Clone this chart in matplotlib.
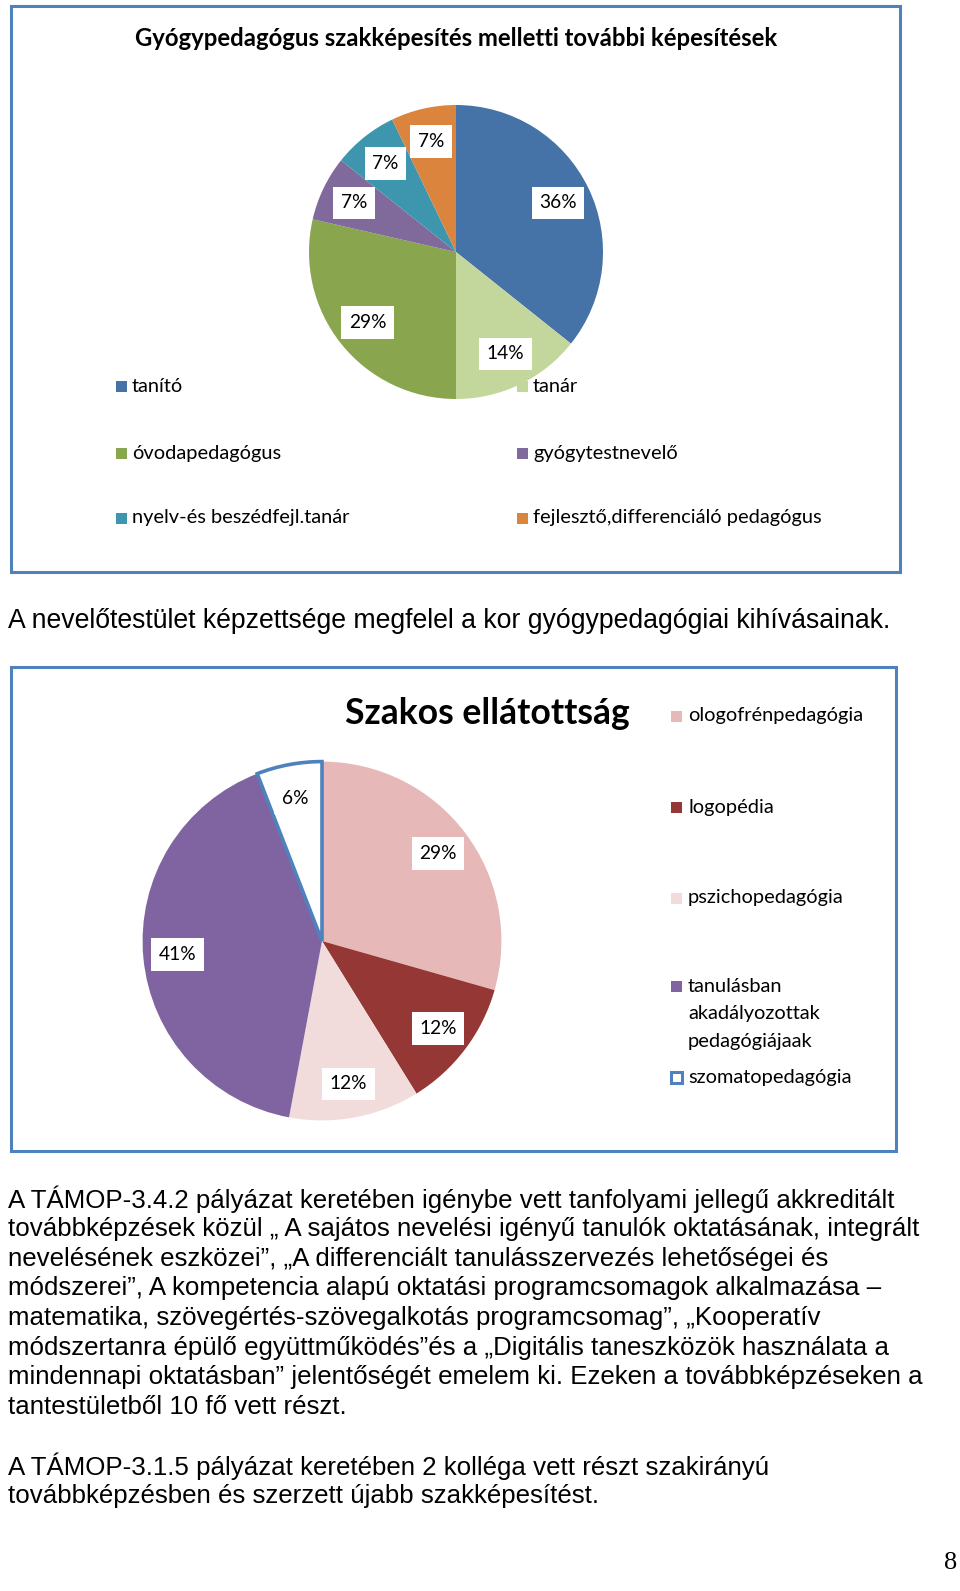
import matplotlib
matplotlib.use('Agg')
import matplotlib.pyplot as plt
from matplotlib.patches import Rectangle

# 1. diagram adatai
labels1 = ['tanító', 'tanár', 'óvodapedagógus', 'gyógytestnevelő',
           'nyelv-és beszédfejl.tanár', 'fejlesztő,differenciáló pedagógus']
counts1 = [5, 2, 4, 1, 1, 1]
colors1 = ['#4572A7', '#C3D69B', '#89A54E', '#80699B', '#3D96AE', '#DB843D']

# 2. diagram adatai
labels2 = ['ologofrénpedagógia', 'logopédia', 'pszichopedagógia',
           'tanulásban\nakadályozottak\npedagógiájaak', 'szomatopedagógia']
counts2 = [5, 2, 2, 7, 1]
colors2 = ['#E6B9B8', '#953735', '#F2DCDB', '#8064A2', '#FFFFFF']

title1 = 'Gyógypedagógus szakképesítés melletti további képesítések'
title2 = 'Szakos ellátottság'
sentence = 'A nevelőtestület képzettsége megfelel a kor gyógypedagógiai kihívásainak.'
para_lines = [
    'A TÁMOP-3.4.2 pályázat keretében igénybe vett tanfolyami jellegű akkreditált',
    'továbbképzések közül „ A sajátos nevelési igényű tanulók oktatásának, integrált',
    'nevelésének eszközei”, „A differenciált tanulásszervezés lehetőségei és',
    'módszerei”, A kompetencia alapú oktatási programcsomagok alkalmazása –',
    'matematika, szövegértés-szövegalkotás programcsomag”, „Kooperatív',
    'módszertanra épülő együttműködés”és a „Digitális taneszközök használata a',
    'mindennapi oktatásban” jelentőségét emelem ki. Ezeken a továbbképzéseken a',
    'tantestületből 10 fő vett részt.',
    '',
    'A TÁMOP-3.1.5 pályázat keretében 2 kolléga vett részt szakirányú',
    'továbbképzésben és szerzett újabb szakképesítést.',
]

W, H = 960, 1591
CHART_FONT = 'Lato'
DOC_FONT = 'Liberation Sans'
BORDER = '#4F81BD'

fig = plt.figure(figsize=(W / 100, H / 100), dpi=100)
fig.patch.set_facecolor('white')

# háttér tengely pixel-koordinátákkal
bg = fig.add_axes([0, 0, 1, 1])
bg.set_xlim(0, W)
bg.set_ylim(H, 0)
bg.axis('off')


def pie_axes(cx, cy, r):
    ax = fig.add_axes([(cx - r) / W, 1 - (cy + r) / H, 2 * r / W, 2 * r / H])
    return ax


def legend_square(x, y, color, edge=None):
    s = 11
    if edge:
        bg.add_patch(Rectangle((x - s / 2, y - s / 2), s, s, facecolor='white',
                               edgecolor=edge, linewidth=2.2))
    else:
        bg.add_patch(Rectangle((x - s / 2, y - s / 2), s, s, facecolor=color,
                               edgecolor='none'))


# --- 1. diagram keret + cím
bg.add_patch(Rectangle((10.5, 5.5), 889, 566.5, fill=False, edgecolor=BORDER, linewidth=2.2))
bg.text(456, 38, title1, ha='center', va='center', fontsize=17.2,
        fontweight='bold', family=CHART_FONT)

ax1 = pie_axes(456, 252, 147)
wedges1, _, pcts1 = ax1.pie(counts1, colors=colors1, startangle=90, counterclock=False,
                            autopct='%1.0f%%', pctdistance=0.77,
                            wedgeprops=dict(linewidth=0))
ax1.set_xlim(-1, 1)
ax1.set_ylim(-1, 1)
for t in pcts1:
    t.set_family(CHART_FONT)
    t.set_fontsize(13.8)
    t.set_bbox(dict(boxstyle='square,pad=0.4', facecolor='white', edgecolor='none'))

# jelmagyarázat: 2 oszlop, 3 sor
leg_cols = [121, 522]
leg_rows = [386, 453, 518]
for i, (lab, col) in enumerate(zip(labels1, colors1)):
    x = leg_cols[i % 2]
    y = leg_rows[i // 2]
    legend_square(x, y, col)
    bg.text(x + 11, y, lab, ha='left', va='center', fontsize=14.4, family=CHART_FONT)

# --- mondat a két diagram között
bg.text(8, 621, sentence, ha='left', va='center', fontsize=19.2, family=DOC_FONT)

# --- 2. diagram keret + cím
bg.add_patch(Rectangle((10.5, 667), 885, 483.5, fill=False, edgecolor=BORDER, linewidth=2.2))
bg.text(487, 713, title2, ha='center', va='center', fontsize=25.6,
        fontweight='bold', family=CHART_FONT)

ax2 = pie_axes(322, 941, 183)
wedges2, _, pcts2 = ax2.pie(counts2, colors=colors2, startangle=90, counterclock=False,
                            autopct='%1.0f%%', pctdistance=0.81,
                            wedgeprops=dict(linewidth=0))
ax2.set_xlim(-1.02, 1.02)
ax2.set_ylim(-1.02, 1.02)
wedges2[-1].set_edgecolor(BORDER)
wedges2[-1].set_linewidth(2.6)
wedges2[-1].set_zorder(5)
for t in pcts2:
    t.set_family(CHART_FONT)
    t.set_fontsize(13.8)
    t.set_zorder(6)
    t.set_bbox(dict(boxstyle='square,pad=0.4', facecolor='white', edgecolor='none'))

leg2_rows = [716, 807, 898, 986, 1077]
for lab, col, y in zip(labels2, colors2, leg2_rows):
    edge = BORDER if col == '#FFFFFF' else None
    legend_square(676, y, col, edge)
    for j, part in enumerate(lab.split('\n')):
        bg.text(688, y + j * 27.5, part, ha='left', va='center', fontsize=14.4,
                family=CHART_FONT)

# --- bekezdések
y0, step = 1199.5, 29.6
for i, line in enumerate(para_lines):
    if line:
        bg.text(8, y0 + i * step, line, ha='left', va='center', fontsize=18.6,
                family=DOC_FONT)

# oldalszám
bg.text(951, 1563, '8', ha='center', va='center', fontsize=19, family='Liberation Serif')

fig.savefig('out.png', dpi=100)
